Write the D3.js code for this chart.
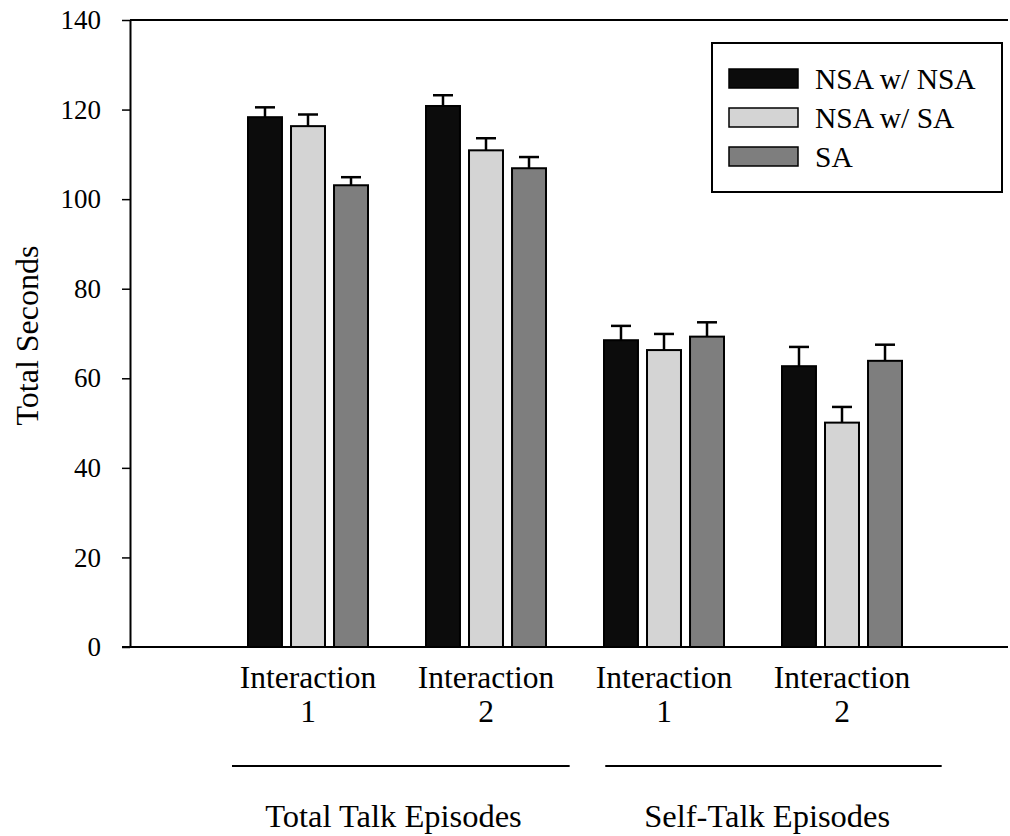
<!DOCTYPE html>
<html>
<head>
<meta charset="utf-8">
<script src="https://cdn.jsdelivr.net/npm/d3@7"></script>
<style>
  html, body { margin: 0; padding: 0; background: #fff; }
  svg text { font-family: "Liberation Serif", "Times New Roman", Times, Tinos, "Nimbus Roman", "DejaVu Serif", serif; }
</style>
</head>
<body>
<svg id="chart" width="1010" height="836"></svg>
<script>
// Categories (interaction number within each episode type)
const interactions = ["1", "2", "1", "2"];
const episodeTypes = ["Total Talk Episodes", "Self-Talk Episodes"];
const seriesNames = ["NSA w/ NSA", "NSA w/ SA", "SA"];

// Mean total seconds per series
const nsaWithNsa = [118.3, 120.8, 68.5, 62.7];
const nsaWithSa  = [116.3, 110.9, 66.3, 50.1];
const saOnly     = [103.1, 106.9, 69.3, 63.9];

// Standard errors (upper whisker only)
const nsaWithNsaErr = [2.2, 2.4, 3.2, 4.3];
const nsaWithSaErr  = [2.6, 2.7, 3.6, 3.5];
const saOnlyErr     = [1.8, 2.5, 3.2, 3.6];

const yTicks = [0, 20, 40, 60, 80, 100, 120, 140];

const seriesValues = [nsaWithNsa, nsaWithSa, saOnly];
const seriesErrors = [nsaWithNsaErr, nsaWithSaErr, saOnlyErr];
const fills = ["#0c0c0c", "#d4d4d4", "#7e7e7e"];

const svg = d3.select("#chart");

const plotLeft = 130, plotRight = 1008, plotTop = 20, plotBottom = 647;

const y = d3.scaleLinear().domain([0, 140]).range([plotBottom, plotTop]);
// group positions along the category axis
const x = d3.scaleLinear().domain([0, 1]).range([plotLeft, plotLeft + 178]);
const inner = d3.scaleBand().domain(seriesNames).range([-60, 60]).paddingInner(0.21).paddingOuter(0);

// frame: top rule
svg.append("line")
  .attr("x1", plotLeft).attr("x2", plotRight)
  .attr("y1", plotTop).attr("y2", plotTop)
  .attr("stroke", "#000").attr("stroke-width", 2);

// y axis
const yAxis = svg.append("g")
  .attr("transform", `translate(${plotLeft},0)`)
  .call(d3.axisLeft(y).tickValues(yTicks).tickSize(8).tickPadding(21).tickSizeOuter(0));
yAxis.attr("font-family", null);
yAxis.select(".domain").attr("stroke-width", 2);
yAxis.selectAll(".tick line").attr("stroke-width", 1.5);
yAxis.selectAll("text")
  .attr("font-size", 27).attr("fill", "#000");

// y axis title
svg.append("text")
  .attr("transform", `translate(38,${(plotTop + plotBottom) / 2 + 2}) rotate(-90)`)
  .attr("text-anchor", "middle")
  .attr("font-size", 32)
  .text("Total Seconds");

// bars
const groups = svg.append("g");
seriesNames.forEach((name, si) => {
  const vals = seriesValues[si];
  const errs = seriesErrors[si];
  const g = groups.append("g");
  const rows = vals.map((v, i) => ({ v, e: errs[i], i }));
  const cx = d => x(d.i + 1) + inner(name) + inner.bandwidth() / 2;
  // error whiskers (drawn first so the bar outline sits on top)
  g.selectAll("line.err")
    .data(rows)
    .join("line")
    .attr("class", "err")
    .attr("x1", cx).attr("x2", cx)
    .attr("y1", d => y(d.v))
    .attr("y2", d => y(d.v + d.e))
    .attr("stroke", "#000").attr("stroke-width", 2.5);
  g.selectAll("line.cap")
    .data(rows)
    .join("line")
    .attr("class", "cap")
    .attr("x1", d => cx(d) - 10)
    .attr("x2", d => cx(d) + 10)
    .attr("y1", d => y(d.v + d.e))
    .attr("y2", d => y(d.v + d.e))
    .attr("stroke", "#000").attr("stroke-width", 2.5);
  g.selectAll("rect")
    .data(rows)
    .join("rect")
    .attr("x", d => x(d.i + 1) + inner(name))
    .attr("width", inner.bandwidth())
    .attr("y", d => y(d.v))
    .attr("height", d => y(0) - y(d.v))
    .attr("fill", fills[si])
    .attr("stroke", "#000").attr("stroke-width", 2);
});

// x axis baseline
svg.append("line")
  .attr("x1", plotLeft - 8).attr("x2", plotRight)
  .attr("y1", plotBottom).attr("y2", plotBottom)
  .attr("stroke", "#000").attr("stroke-width", 2);

// category labels
const cat = svg.append("g").attr("font-size", 31.5).attr("text-anchor", "middle");
interactions.forEach((n, i) => {
  const cx = x(i + 1);
  cat.append("text").attr("x", cx).attr("y", 688).text("Interaction");
  cat.append("text").attr("x", cx).attr("y", 722).text(n);
});

// episode-type brackets and labels
const spans = [[0.573, 2.47], [2.67, 4.56]];
const centers = [1.48, 3.58];
episodeTypes.forEach((t, k) => {
  svg.append("line")
    .attr("x1", x(spans[k][0])).attr("x2", x(spans[k][1]))
    .attr("y1", 766).attr("y2", 766)
    .attr("stroke", "#000").attr("stroke-width", 2);
  svg.append("text")
    .attr("x", x(centers[k])).attr("y", 827)
    .attr("text-anchor", "middle")
    .attr("font-size", 32.5)
    .text(t);
});

// legend
const legend = svg.append("g");
legend.append("rect")
  .attr("x", 712).attr("y", 43).attr("width", 290).attr("height", 149)
  .attr("fill", "#fff").attr("stroke", "#000").attr("stroke-width", 2);
seriesNames.forEach((name, si) => {
  const cy = 78.5 + si * 39;
  legend.append("rect")
    .attr("x", 729).attr("y", cy - 9.5).attr("width", 69).attr("height", 19)
    .attr("fill", fills[si]).attr("stroke", "#000").attr("stroke-width", 1.5);
  legend.append("text")
    .attr("x", 815).attr("y", cy + 10)
    .attr("font-size", 29.5)
    .text(name);
});
</script>
</body>
</html>
